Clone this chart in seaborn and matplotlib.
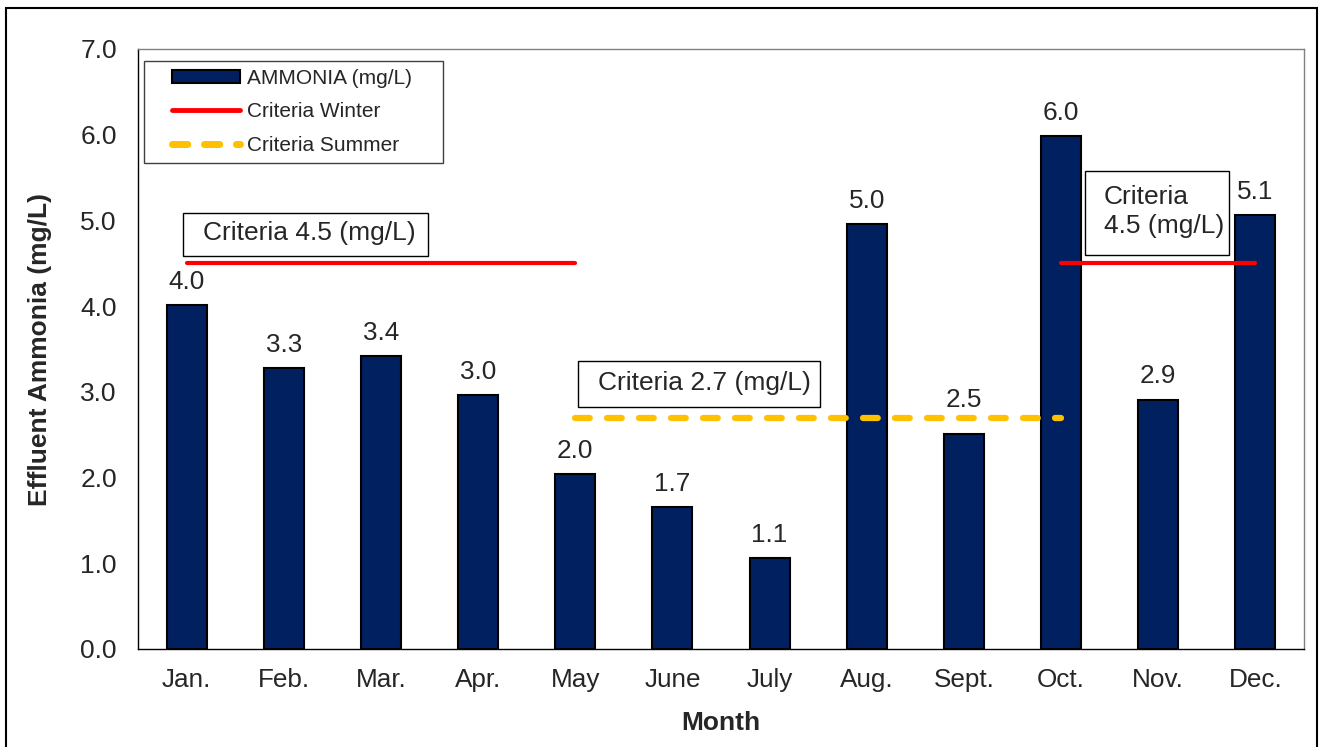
import matplotlib
matplotlib.use("Agg")
import matplotlib.pyplot as plt
from matplotlib.patches import Rectangle, Patch
from matplotlib.lines import Line2D
import seaborn as sns
import pandas as pd

months = ["Jan.", "Feb.", "Mar.", "Apr.", "May", "June", "July", "Aug.", "Sept.", "Oct.", "Nov.", "Dec."]
ammonia = [4.01, 3.28, 3.42, 2.96, 2.04, 1.66, 1.06, 4.96, 2.51, 5.98, 2.91, 5.06]
yticks = [0, 1, 2, 3, 4, 5, 6, 7]

criteria_winter = 4.5
criteria_summer = 2.7
winter_segments = [("Jan.", "May"), ("Oct.", "Dec.")]
summer_segment = ("May", "Oct.")

sns.set_style("white")
plt.rcParams["font.family"] = ["Liberation Sans", "DejaVu Sans"]

BAR = "#002060"
RED = "#FF0000"
GOLD = "#FFC000"
FS = 18.8

fig = plt.figure(figsize=(13.25, 7.47), dpi=100)
ax = fig.add_axes([138/1325, 98/747, 1166/1325, 600/747])

df = pd.DataFrame({"Month": months, "Ammonia": ammonia})
sns.barplot(data=df, x="Month", y="Ammonia", color=BAR, saturation=1,
            edgecolor="black", linewidth=1.5, width=0.41, ax=ax)

labels = ax.bar_label(ax.containers[0], labels=[f"{v:.1f}" for v in ammonia],
                      padding=8, fontsize=FS)
# the September label sits a little higher in the original (clear of the dashed line)
labels[months.index("Sept.")].xyann = (0, 16)

# criteria lines
for a, b in winter_segments:
    ax.plot([months.index(a), months.index(b)], [criteria_winter] * 2,
            color=RED, lw=3, solid_capstyle="round", zorder=4)
summer_line, = ax.plot([months.index(summer_segment[0]), months.index(summer_segment[1])],
                       [criteria_summer] * 2, color=GOLD, lw=4.5, zorder=4)
summer_line.set_dashes((2.36, 2.76))
summer_line.set_dash_capstyle("round")

ax.set_xlim(-0.5, len(months) - 0.5)
ax.set_ylim(0, 7)
ax.set_yticks(yticks)
ax.set_yticklabels([f"{t:.1f}" for t in yticks], fontsize=19)
ax.set_xticks(range(len(months)))
ax.set_xticklabels(months, fontsize=FS)
ax.set_xticks([i - 0.5 for i in range(len(months) + 1)], minor=True)
ax.tick_params(axis="x", which="major", length=0, pad=14)
ax.tick_params(axis="x", which="minor", direction="inout", length=12, width=1, color="black")
ax.tick_params(axis="y", which="major", direction="inout", length=10.5, width=1, pad=10, color="black")

for s in ["left", "bottom"]:
    ax.spines[s].set_color("black")
    ax.spines[s].set_linewidth(1)
for s in ["top", "right"]:
    ax.spines[s].set_color("#808080")
    ax.spines[s].set_linewidth(1)

ax.set_ylabel("Effluent Ammonia (mg/L)", fontsize=19, fontweight="bold", va="center")
ax.yaxis.set_label_coords(-0.0842, 0.5)
ax.set_xlabel("Month", fontsize=19, fontweight="bold", va="center")
ax.xaxis.set_label_coords(0.5, -0.1235)

# criteria annotation boxes (data coordinates)
def box(x0, x1, y0, y1, tx, ty, text, ls=1.2):
    ax.add_patch(Rectangle((x0, y0), x1 - x0, y1 - y0, facecolor="white",
                           edgecolor="black", lw=1, zorder=5))
    ax.text(tx, ty, text, fontsize=19, ha="left", va="center", zorder=6,
            linespacing=ls)

box(-0.037, 2.48, 4.585, 5.087, 0.17, 4.85, "Criteria 4.5 (mg/L)")
box(4.027, 6.516, 2.823, 3.360, 4.232, 3.105, "Criteria 2.7 (mg/L)")
box(9.243, 10.724, 4.597, 5.577, 9.44, 5.10, "Criteria\n4.5 (mg/L)", ls=1.25)

# legend
ax.add_patch(Rectangle((0.005, 0.81), 0.2566, 0.17, transform=ax.transAxes,
                       facecolor="white", edgecolor="#404040", lw=1, zorder=5))
summer_handle = Line2D([0], [0], color=GOLD, lw=5, label="Criteria Summer")
summer_handle.set_dashes((2.2, 2.4))
summer_handle.set_dash_capstyle("round")
handles = [
    Patch(facecolor=BAR, edgecolor="black", linewidth=1.5, label="AMMONIA (mg/L)"),
    Line2D([0], [0], color=RED, lw=3.5, solid_capstyle="round", label="Criteria Winter"),
    summer_handle,
]
leg = ax.legend(handles=handles, loc="upper left", bbox_to_anchor=(0.029, 0.967),
                frameon=False, fontsize=15, handlelength=3.25, handleheight=0.6,
                handletextpad=0.35, labelspacing=0.7, borderpad=0, borderaxespad=0)
leg.set_zorder(6)

# figure border
fig.add_artist(Rectangle((6/1325, -0.02), 1311/1325, 1.02 - 8/747,
                         transform=fig.transFigure, fill=False,
                         edgecolor="black", lw=1.5))

fig.savefig("out.png", dpi=100)
